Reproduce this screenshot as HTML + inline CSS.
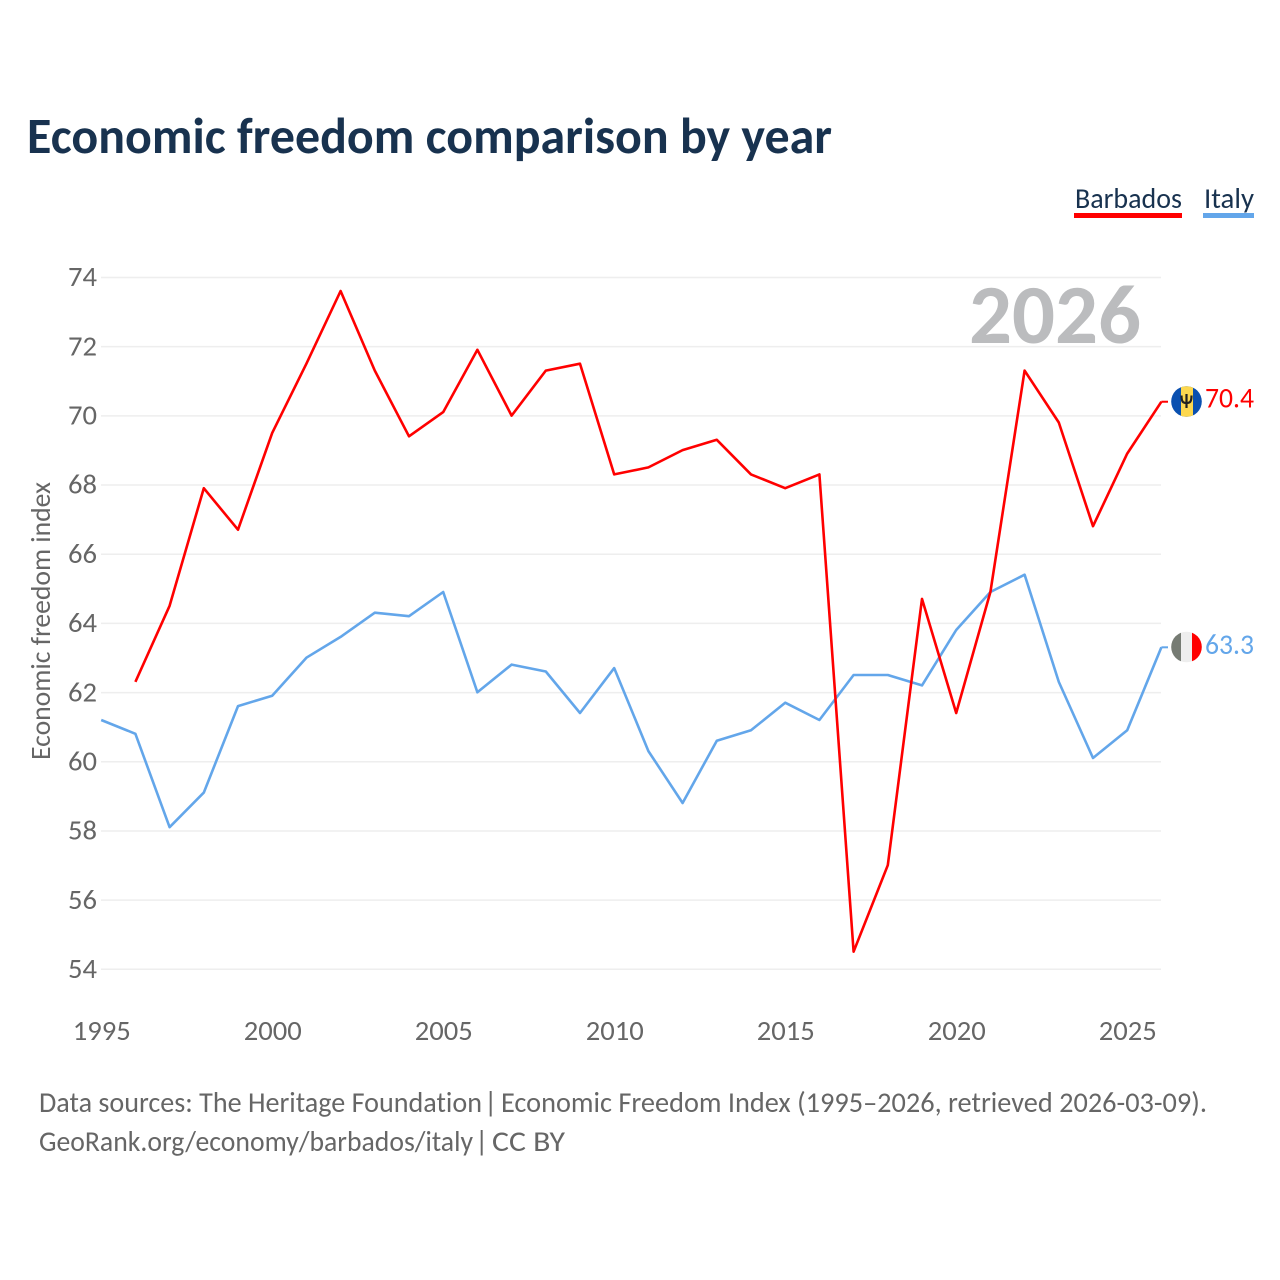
<!DOCTYPE html>
<html lang="en">
<head>
<meta charset="utf-8">
<title>Economic freedom comparison by year</title>
<style>
html,body{margin:0;padding:0;background:#fff;width:1280px;height:1280px;overflow:hidden}
svg{display:block}
text{font-family:"Carlito","Lato","Liberation Sans",sans-serif;font-variant-ligatures:none}
</style>
</head>
<body>
<svg id="chart" xmlns="http://www.w3.org/2000/svg" width="1280" height="1280" viewBox="0 0 1280 1280">
  <text x="27" y="153" font-size="51" font-weight="700" fill="#18324f" textLength="805" lengthAdjust="spacingAndGlyphs">Economic freedom comparison by year</text>
  <g>
    <g>
      <text x="1075" y="208" font-size="29" fill="#18324f" textLength="107" lengthAdjust="spacingAndGlyphs">Barbados</text>
      <rect x="1074" y="213" width="108" height="5" fill="#ff0000"/>
    </g>
    <g>
      <text x="1204" y="208" font-size="29" fill="#18324f" textLength="50" lengthAdjust="spacingAndGlyphs">Italy</text>
      <rect x="1203" y="213" width="51" height="5" fill="#63a6ea"/>
    </g>
  </g>
  <g id="grid"></g>
  <g id="yticks"></g>
  <g id="xticks"></g>
  <text transform="translate(50 621) rotate(-90)" text-anchor="middle" font-size="28" fill="#666" textLength="278" lengthAdjust="spacingAndGlyphs">Economic freedom index</text>
  <text x="1141" y="343" text-anchor="end" font-size="84" font-weight="700" fill="#bbbcbe" textLength="172" lengthAdjust="spacingAndGlyphs">2026</text>
  <g id="series"></g>
  <g>
    <clipPath id="clipB"><circle cx="1186.5" cy="401.5" r="15.3"/></clipPath>
    <g clip-path="url(#clipB)">
      <rect x="1171" y="386" width="31" height="31" fill="#0a50b0"/>
      <rect x="1181" y="386" width="12" height="31" fill="#fdd84f"/>
    </g>
    <path d="M1186.5 394v14M1181.5 395.5c0 6.5 1.5 7.5 5 7.5s5-1 5-7.5" fill="none" stroke="#222" stroke-width="2.2"/>
  </g>
  <text id="label-barbados" x="1205" y="407.5" font-size="29" fill="#ff0000" textLength="49" lengthAdjust="spacingAndGlyphs"></text>
  <g>
    <clipPath id="clipI"><circle cx="1186.5" cy="647" r="15.3"/></clipPath>
    <g clip-path="url(#clipI)">
      <rect x="1171" y="631" width="10" height="32" fill="#767b73"/>
      <rect x="1181" y="631" width="11" height="32" fill="#eeeeee"/>
      <rect x="1192" y="631" width="10" height="32" fill="#ff0000"/>
    </g>
  </g>
  <text id="label-italy" x="1205" y="654" font-size="29" fill="#63a6ea" textLength="49" lengthAdjust="spacingAndGlyphs"></text>
  <g>
    <text x="39" y="1112" font-size="29" fill="#666" textLength="443" lengthAdjust="spacingAndGlyphs">Data sources: The Heritage Foundation</text>
    <text x="484" y="1112" font-size="29" fill="#666">|</text>
    <text x="501" y="1112" font-size="29" fill="#666" textLength="706" lengthAdjust="spacingAndGlyphs">Economic Freedom Index (1995–2026, retrieved 2026-03-09).</text>
    <text x="39" y="1151" font-size="29" fill="#666" textLength="434" lengthAdjust="spacingAndGlyphs">GeoRank.org/economy/barbados/italy</text>
    <text x="475" y="1151" font-size="29" fill="#666">|</text>
    <text x="492" y="1151" font-size="29" fill="#666" textLength="73" lengthAdjust="spacingAndGlyphs">CC BY</text>
  </g>
</svg>
<script>
const years = [1995,1996,1997,1998,1999,2000,2001,2002,2003,2004,2005,2006,2007,2008,2009,2010,2011,2012,2013,2014,2015,2016,2017,2018,2019,2020,2021,2022,2023,2024,2025,2026];
const barbados = [null,62.3,64.5,67.9,66.7,69.5,71.5,73.6,71.3,69.4,70.1,71.9,70.0,71.3,71.5,68.3,68.5,69.0,69.3,68.3,67.9,68.3,54.5,57.0,64.7,61.4,64.9,71.3,69.8,66.8,68.9,70.4];
const italy = [61.2,60.8,58.1,59.1,61.6,61.9,63.0,63.6,64.3,64.2,64.9,62.0,62.8,62.6,61.4,62.7,60.3,58.8,60.6,60.9,61.7,61.2,62.5,62.5,62.2,63.8,64.9,65.4,62.3,60.1,60.9,63.3];
const yTicks = [54,56,58,60,62,64,66,68,70,72,74];
const xTicks = [1995,2000,2005,2010,2015,2020,2025];

const NS = 'http://www.w3.org/2000/svg';
const xScale = function (year) { return 101.2 + (year - 1995) * 34.2; };
const yScale = function (value) { return 969 - (value - 54) * 34.59; };

function make(tag, attrs, parent) {
  const el = document.createElementNS(NS, tag);
  Object.keys(attrs).forEach(function (k) { el.setAttribute(k, attrs[k]); });
  parent.appendChild(el);
  return el;
}

const grid = document.getElementById('grid');
const yGroup = document.getElementById('yticks');
const xGroup = document.getElementById('xticks');
const seriesGroup = document.getElementById('series');

yTicks.forEach(function (t) {
  const line = make('line', {x1: 101, x2: 1161, y1: yScale(t) + 0.3, y2: yScale(t) + 0.3, stroke: '#eeeeee', 'stroke-width': 1.5}, grid);
  
  
  const label = make('text', {x: 97, y: yScale(t) + 9, 'text-anchor': 'end', 'font-size': 28, fill: '#666', textLength: 29, lengthAdjust: 'spacingAndGlyphs'}, yGroup);
  
  
  label.textContent = t;
});

xTicks.forEach(function (t) {
  const label = make('text', {x: xScale(t) + 0.6, y: 1040, 'text-anchor': 'middle', 'font-size': 28, fill: '#666', textLength: 58, lengthAdjust: 'spacingAndGlyphs'}, xGroup);
  
  
  label.textContent = t;
});

function linePath(values) {
  let d = '';
  values.forEach(function (v, i) {
    if (v === null) return;
    d += (d ? 'L' : 'M') + xScale(years[i]).toFixed(1) + ' ' + yScale(v).toFixed(1);
  });
  return d;
}

const italyLine = make('path', {d: linePath(italy), fill: 'none', stroke: '#63a6ea', 'stroke-width': 2.6, 'stroke-linejoin': 'round'}, seriesGroup);


const barbadosLine = make('path', {d: linePath(barbados), fill: 'none', stroke: '#ff0000', 'stroke-width': 2.6, 'stroke-linejoin': 'round'}, seriesGroup);



const lastB = barbados[barbados.length - 1];
const lastI = italy[italy.length - 1];
const lastX = xScale(years[years.length - 1]);
const connB = make('line', {x1: lastX, x2: 1168, y1: yScale(lastB), y2: yScale(lastB), stroke: '#ff0000', 'stroke-width': 2}, seriesGroup);


const connI = make('line', {x1: lastX, x2: 1168, y1: yScale(lastI), y2: yScale(lastI), stroke: '#63a6ea', 'stroke-width': 2}, seriesGroup);


document.getElementById('label-barbados').textContent = lastB.toFixed(1);
document.getElementById('label-italy').textContent = lastI.toFixed(1);
</script>
</body>
</html>
